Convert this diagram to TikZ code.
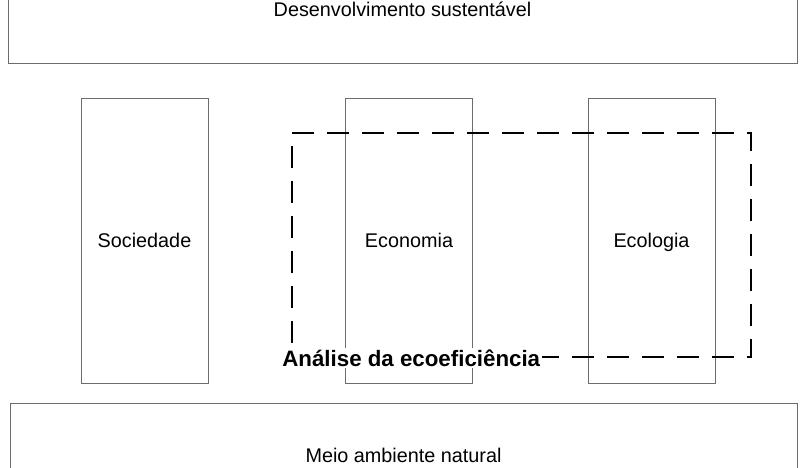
\documentclass[tikz,border=0pt]{standalone}
\usepackage{fontspec}
\setmainfont{Liberation Sans}
\usetikzlibrary{positioning}
\begin{document}
\begin{tikzpicture}[x=1pt, y=-1pt,
    box_style/.style={draw=gray!85!black, line width=0.9pt, inner sep=0pt, text height=18pt, text depth=4pt, font=\fontsize{19.8}{23}\selectfont},
    pillar_style/.style={box_style, minimum width=127pt, minimum height=285pt},
    band_style/.style={box_style, minimum height=106pt}
]
\useasboundingbox (0,0) rectangle (807,468);
\clip (0,0) rectangle (807,468);
% Faixas de cima e de baixo
\node[band_style, minimum width=789pt] (desenv) at (402.5,10) {Desenvolvimento sustentável};
\node[band_style, minimum width=787pt, minimum height=104pt] (meio) at (403.5,455) {Meio ambiente natural};
% Pilares
\node[pillar_style] (soc) at (144.5,240.5) {Sociedade};
\node[pillar_style] (eco) at (409,240.5) {Economia};
\node[pillar_style] (ecol) at (651.5,240.5) {Ecologia};
% Ecoeficiencia
\node[draw, line width=2.7pt, dash pattern=on 22pt off 13pt, minimum width=459pt, minimum height=224pt, inner sep=0pt] (ecoef) at (521.5,245) {};
\node[fill=white, inner sep=1.5pt, anchor=west, font=\fontsize{22.3}{25}\selectfont\bfseries] (rotulo) at ([xshift=-10pt]ecoef.south west) {Análise da ecoeficiência};
\end{tikzpicture}
\end{document}
